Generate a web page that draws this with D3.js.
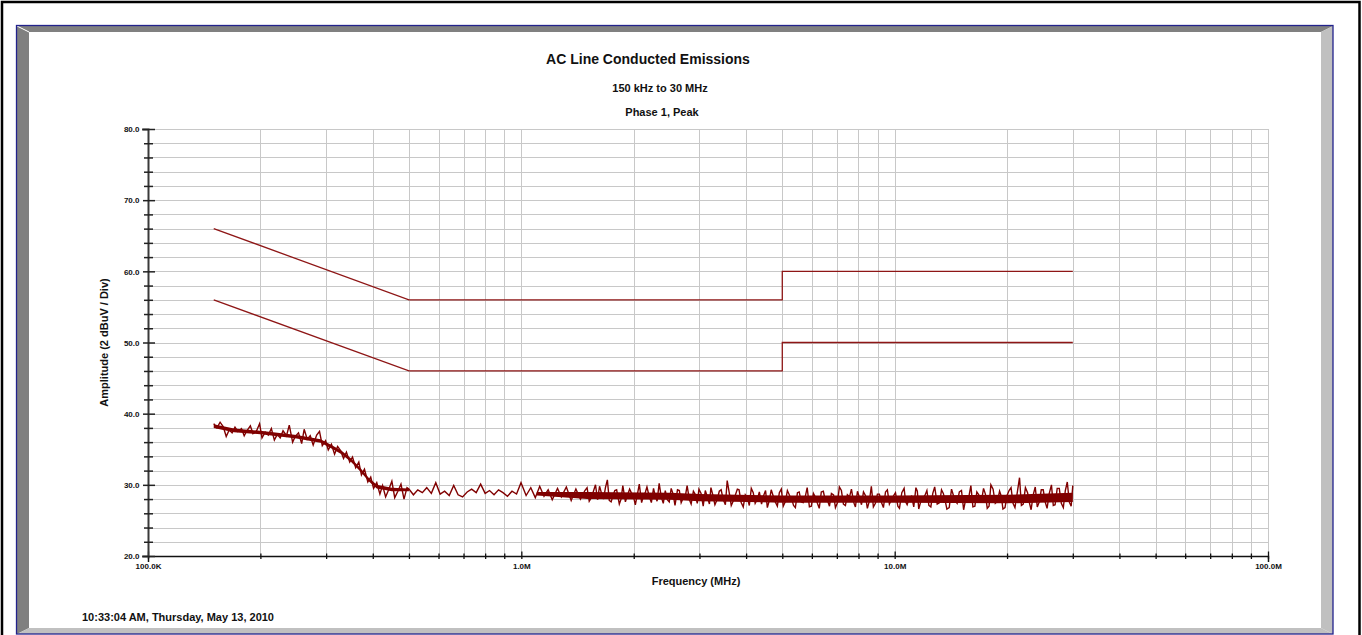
<!DOCTYPE html>
<html>
<head>
<meta charset="utf-8">
<script src="https://cdn.jsdelivr.net/npm/d3@7"></script>
<style>
html, body { margin: 0; padding: 0; background: #fff; }
svg { display: block; font-family: "Liberation Sans", Arial, sans-serif; font-weight: bold; }
</style>
</head>
<body>
<svg id="chart" width="1362" height="635"></svg>
<script>
// tick labels
const decadeFreqs = [0.1, 1, 10, 100];
const decadeLabels = ["100.0K", "1.0M", "10.0M", "100.0M"];
const ampMajor = [20, 30, 40, 50, 60, 70, 80];

// limit lines, [MHz, dBuV]
const qpLimit = [[0.15, 66], [0.5, 56], [5, 56], [5, 60], [30, 60]];
const avgLimit = [[0.15, 56], [0.5, 46], [5, 46], [5, 50], [30, 50]];

// solid core of the dense parts of the trace, [MHz, low, high]
const bandLow = [
    [0.150, 38.0, 38.5], [0.17, 37.4, 37.9], [0.20, 37.1, 37.6], [0.25, 36.5, 37.0],
    [0.29, 35.9, 36.4], [0.31, 35.1, 35.6], [0.33, 34.3, 34.8], [0.35, 33.2, 33.7],
    [0.37, 31.9, 32.4], [0.39, 30.5, 31.0], [0.41, 29.5, 30.0], [0.45, 29.1, 29.6],
    [0.50, 29.1, 29.5]
];
const bandHigh = [
    [1.1, 28.5, 29.0], [1.5, 28.0, 29.0], [2.5, 27.9, 28.9], [3.0, 27.7, 28.7],
    [5.0, 27.5, 28.5], [10, 27.5, 28.5], [20, 27.4, 28.6], [30, 27.6, 28.9]
];

// peak trace, [MHz, dBuV]
const peakTrace = [
    [0.150, 38.6], [0.153, 38.0], [0.156, 38.8], [0.159, 38.2], [0.162, 36.8], [0.165, 37.7],
    [0.168, 37.3], [0.171, 38.1], [0.174, 37.5], [0.178, 37.9], [0.181, 36.9], [0.184, 37.6],
    [0.188, 38.3], [0.191, 37.2], [0.195, 37.5], [0.199, 38.6], [0.202, 36.6], [0.206, 37.4],
    [0.210, 37.0], [0.214, 37.9], [0.218, 36.3], [0.222, 37.1], [0.226, 36.6], [0.230, 37.6],
    [0.235, 36.9], [0.239, 38.4], [0.244, 36.0], [0.248, 36.8], [0.253, 37.3], [0.258, 35.8],
    [0.262, 37.8], [0.267, 36.4], [0.272, 36.9], [0.277, 35.6], [0.283, 37.0], [0.288, 37.5],
    [0.293, 35.5], [0.299, 36.2], [0.304, 34.9], [0.310, 35.7], [0.316, 34.3], [0.322, 35.4],
    [0.328, 34.8], [0.334, 33.7], [0.340, 34.6], [0.347, 33.2], [0.353, 33.9], [0.360, 32.4],
    [0.367, 33.2], [0.373, 31.4], [0.380, 32.2], [0.388, 30.4], [0.395, 31.1], [0.402, 29.5],
    [0.410, 30.3], [0.418, 28.7], [0.425, 29.9], [0.433, 28.3], [0.442, 29.4], [0.450, 30.5],
    [0.458, 28.2], [0.467, 29.1], [0.476, 30.1], [0.485, 28.0], [0.494, 29.6],
    [0.500, 29.4], [0.514, 28.6], [0.528, 29.3], [0.543, 28.9], [0.558, 29.6], [0.574, 28.8],
    [0.590, 30.3], [0.606, 28.7], [0.623, 29.1], [0.641, 28.5], [0.659, 29.9], [0.677, 28.6],
    [0.696, 28.3], [0.716, 29.0], [0.736, 29.4], [0.757, 28.9], [0.778, 30.1], [0.800, 28.8],
    [0.822, 29.2], [0.845, 28.6], [0.869, 29.3], [0.893, 28.9], [0.918, 28.4], [0.944, 29.1],
    [0.971, 28.7], [0.998, 30.3], [1.03, 28.5], [1.06, 29.6], [1.09, 28.2], [1.12, 29.8],
    [1.15, 28.4], [1.18, 29.3], [1.21, 27.9], [1.25, 29.5], [1.28, 28.3], [1.32, 29.7],
    [1.36, 27.8], [1.40, 29.4], [1.44, 28.0], [1.48, 29.2],
    [1.50, 29.6], [1.54, 28.2], [1.58, 30.0], [1.62, 29.8], [1.66, 28.0], [1.70, 30.7],
    [1.74, 27.6], [1.78, 29.2], [1.83, 27.3], [1.87, 29.9], [1.92, 28.4], [1.97, 28.9],
    [2.02, 27.2], [2.07, 30.1], [2.12, 28.3], [2.17, 29.7], [2.23, 27.5], [2.28, 28.6],
    [2.34, 30.2], [2.40, 27.4], [2.46, 27.9], [2.52, 29.5], [2.58, 27.1], [2.65, 29.2],
    [2.71, 28.1], [2.78, 29.9], [2.85, 27.3], [2.92, 28.7], [2.99, 29.4], [3.07, 27.0],
    [3.15, 28.3], [3.22, 29.6], [3.30, 27.2], [3.39, 29.1], [3.47, 28.0], [3.56, 30.6],
    [3.65, 27.1], [3.74, 28.5], [3.83, 29.3], [3.93, 26.9], [4.03, 28.2], [4.13, 29.5],
    [4.23, 27.4], [4.34, 29.0], [4.45, 28.4], [4.56, 26.8], [4.67, 29.3], [4.79, 27.6],
    [4.91, 28.9], [5.03, 27.0], [5.16, 29.2], [5.29, 28.1], [5.42, 26.8], [5.55, 29.0],
    [5.69, 27.5], [5.83, 29.6], [5.98, 27.0], [6.13, 28.3], [6.28, 26.7], [6.44, 29.1],
    [6.60, 27.9], [6.77, 28.8], [6.94, 26.8], [7.11, 29.7], [7.29, 27.3], [7.47, 28.6],
    [7.66, 29.4], [7.85, 26.9], [8.05, 28.2], [8.25, 29.0], [8.45, 26.7], [8.66, 29.8],
    [8.88, 27.4], [9.10, 28.7], [9.33, 26.8], [9.56, 29.3], [9.80, 27.9], [10.05, 28.9],
    [10.3, 26.7], [10.6, 29.5], [10.8, 27.2], [11.1, 28.4], [11.4, 29.6], [11.6, 26.6],
    [11.9, 28.1], [12.2, 29.2], [12.5, 26.9], [12.8, 29.7], [13.2, 27.5], [13.5, 28.8],
    [13.8, 26.6], [14.2, 29.4], [14.5, 27.8], [14.9, 29.0], [15.3, 26.5], [15.6, 28.3],
    [16.0, 29.9], [16.4, 27.0], [16.8, 28.6], [17.3, 29.5], [17.7, 26.7], [18.1, 30.0],
    [18.6, 27.4], [19.1, 29.1], [19.5, 26.6], [20.0, 28.5], [20.5, 29.6], [21.0, 26.8],
    [21.6, 31.0], [22.1, 27.3], [22.7, 28.9], [23.2, 26.5], [23.8, 29.7], [24.4, 27.6],
    [25.0, 29.3], [25.6, 26.7], [26.3, 30.0], [26.9, 27.2], [27.6, 29.5], [28.3, 26.8],
    [29.0, 30.4], [29.7, 27.0], [30.0, 29.9]
];

// in-between sweep points of the dense part, [MHz, dBuV]
const peakTraceFine = [
    [1.52, 27.7], [1.56, 29.1], [1.60, 27.9], [1.64, 28.8], [1.68, 29.6], [1.72, 27.8],
    [1.76, 28.5], [1.80, 29.3], [1.85, 28.0], [1.90, 27.6], [1.95, 29.4], [2.00, 28.2],
    [2.05, 28.9], [2.10, 27.5], [2.15, 29.0], [2.20, 28.4], [2.26, 29.5], [2.31, 27.7],
    [2.37, 28.3], [2.43, 29.2], [2.49, 27.6], [2.55, 28.7], [2.62, 29.3], [2.68, 27.5],
    [2.75, 28.4], [2.82, 27.9], [2.89, 29.1], [2.96, 27.4], [3.03, 28.8], [3.11, 29.2],
    [3.19, 27.3], [3.26, 28.5], [3.35, 28.0], [3.43, 29.3], [3.52, 27.2], [3.61, 28.7],
    [3.70, 27.8], [3.79, 29.4], [3.88, 27.5], [3.98, 28.6], [4.08, 27.1], [4.18, 28.9],
    [4.29, 28.0], [4.40, 27.3], [4.51, 29.2], [4.62, 27.9], [4.73, 28.4], [4.85, 27.0],
    [4.97, 29.4], [5.10, 27.7], [5.23, 28.5], [5.36, 27.1], [5.49, 28.9], [5.62, 27.6],
    [5.76, 28.3], [5.91, 26.9], [6.06, 28.8], [6.21, 27.4], [6.36, 29.0], [6.52, 27.8],
    [6.69, 27.0], [6.86, 28.6], [7.03, 27.5], [7.20, 29.2], [7.38, 27.1], [7.57, 28.3],
    [7.76, 27.6], [7.95, 29.1], [8.15, 27.2], [8.35, 28.5], [8.56, 27.8], [8.77, 26.9],
    [8.99, 28.7], [9.22, 27.5], [9.45, 29.0], [9.68, 27.3], [9.92, 28.4], [10.2, 27.0],
    [10.45, 28.9], [10.7, 27.6], [10.95, 28.2], [11.25, 26.9], [11.5, 29.1], [11.75, 27.7],
    [12.05, 28.5], [12.35, 27.1], [12.65, 28.8], [13.0, 27.3], [13.35, 29.3], [13.65, 27.8],
    [14.0, 26.8], [14.35, 28.6], [14.7, 27.4], [15.1, 29.2], [15.45, 27.6], [15.8, 28.3],
    [16.2, 26.9], [16.6, 29.0], [17.05, 27.5], [17.5, 28.7], [17.9, 27.0], [18.35, 29.4],
    [18.85, 27.7], [19.3, 28.4], [19.75, 26.8], [20.25, 29.2], [20.75, 27.4], [21.3, 28.9],
    [21.85, 27.1], [22.4, 29.6], [22.95, 27.5], [23.5, 28.6], [24.1, 26.9], [24.7, 29.3],
    [25.3, 27.6], [25.95, 28.8], [26.6, 27.1], [27.25, 29.5], [27.95, 27.4], [28.65, 29.2],
    [29.35, 27.6]
];

var svg = d3.select('#chart');

// frame: outer black border and bevelled panel
svg.append('rect')
    .attr('x', 2).attr('y', 2)
    .attr('width', 1357.5).attr('height', 640)
    .attr('fill', 'none').attr('stroke', '#000').attr('stroke-width', 2.5);

svg.append('path').attr('fill', '#808080')
    .attr('d', 'M17,26 L1333,26 L1321,32 L29,32 Z');
svg.append('path').attr('fill', '#808080')
    .attr('d', 'M17,26 L29,32 L29,628 L17,634 Z');
svg.append('path').attr('fill', '#c0c0c0')
    .attr('d', 'M1333,26 L1333,634 L1321,628 L1321,32 Z');
svg.append('path').attr('fill', '#c0c0c0')
    .attr('d', 'M17,634 L29,628 L1321,628 L1333,634 Z');
svg.append('line')
    .attr('x1', 17).attr('y1', 26).attr('x2', 29).attr('y2', 32)
    .attr('stroke', '#fff').attr('stroke-width', 1);
svg.append('rect')
    .attr('x', 16.5).attr('y', 25.5)
    .attr('width', 1316.5).attr('height', 608.5)
    .attr('fill', 'none').attr('stroke', '#22228c').attr('stroke-width', 1.3);

// scales
var x = d3.scaleLog().domain([0.1, 100]).range([148, 1268]);
var y = d3.scaleLinear().domain([20, 80]).range([556, 129]);

var freqTicks = x.ticks();
var ampTicks = y.ticks(30);

// grid
var grid = svg.append('g').attr('class', 'grid')
    .attr('stroke', '#c8c8c8').attr('stroke-width', 1);

grid.selectAll('.h')
    .data(ampTicks)
    .enter().append('line')
    .attr('x1', x(0.1)).attr('x2', x(100))
    .attr('y1', d => Math.round(y(d)) + 0.5)
    .attr('y2', d => Math.round(y(d)) + 0.5);

grid.selectAll('.v')
    .data(freqTicks.filter(d => d > 0.1))
    .enter().append('line')
    .attr('x1', d => Math.round(x(d)) + 0.5)
    .attr('x2', d => Math.round(x(d)) + 0.5)
    .attr('y1', y(80)).attr('y2', y(20));

// limit lines
var line = d3.line().x(d => x(d[0])).y(d => y(d[1]));

[qpLimit, avgLimit].forEach(d => {
    svg.append('path')
        .datum(d)
        .attr('fill', 'none')
        .attr('stroke', '#8e1616')
        .attr('stroke-width', 1.3)
        .attr('d', line);
});

// measured trace
var area = d3.area().x(d => x(d[0])).y0(d => y(d[1])).y1(d => y(d[2]));

[bandLow, bandHigh].forEach(d => {
    svg.append('path')
        .datum(d)
        .attr('fill', '#800000')
        .attr('d', area);
});

var sweep = d3.sort(peakTrace.concat(peakTraceFine), d => d[0]);

svg.append('path')
    .datum(sweep)
    .attr('fill', 'none')
    .attr('stroke', '#800000')
    .attr('stroke-width', 1.4)
    .attr('d', line);

// x axis
var xAxis = d3.axisBottom(x)
    .tickValues(freqTicks)
    .tickFormat(d => {
        let i = decadeFreqs.findIndex(v => Math.abs(v - d) < 1e-9);
        return i >= 0 ? decadeLabels[i] : '';
    });

var bottomAxis = svg.append('g')
    .attr('transform', `translate(0 ${y(20)})`)
    .call(xAxis);

bottomAxis.select('.domain').attr('stroke', '#111').attr('stroke-width', 1.5);
bottomAxis.selectAll('.tick line')
    .attr('stroke', '#111').attr('stroke-width', 1.3)
    .attr('y1', d => decadeFreqs.some(v => Math.abs(v - d) < 1e-9) ? -4.5 : -2.5)
    .attr('y2', 3);
bottomAxis.selectAll('.tick text')
    .attr('y', 13).attr('dy', 0)
    .attr('fill', '#111')
    .style('font-size', '8px').style('font-weight', 'bold')
    .style('font-family', '"Liberation Sans", Arial, sans-serif');

// y axis
var yAxis = d3.axisLeft(y)
    .tickValues(ampTicks)
    .tickFormat(d => ampMajor.includes(d) ? d.toFixed(1) : '');

var leftAxis = svg.append('g')
    .attr('transform', `translate(${x(0.1)} 0)`)
    .call(yAxis);

leftAxis.select('.domain').attr('stroke', '#3a3a3a').attr('stroke-width', 2);
leftAxis.selectAll('.tick line')
    .attr('stroke', '#222').attr('stroke-width', 1.5)
    .attr('x1', d => ampMajor.includes(d) ? -5 : -4)
    .attr('x2', d => ampMajor.includes(d) ? 7 : 5);
leftAxis.selectAll('.tick text')
    .attr('x', -8.5).attr('dy', '0.35em')
    .attr('fill', '#111')
    .style('font-size', '8px').style('font-weight', 'bold')
    .style('font-family', '"Liberation Sans", Arial, sans-serif');

// titles
function label(txt, px, py, size, anchor) {
    return svg.append('text')
        .attr('x', px).attr('y', py)
        .attr('text-anchor', anchor || 'middle')
        .attr('fill', '#111')
        .style('font-size', size + 'px')
        .text(txt);
}

label('AC Line Conducted Emissions', 648, 64, 14);
label('150 kHz to 30 MHz', 660, 92, 11);
label('Phase 1, Peak', 662, 116, 11);
label('Frequency (MHz)', 696, 585, 11);
label('10:33:04 AM, Thursday, May 13, 2010', 82, 621, 11, 'start');

svg.append('text')
    .attr('transform', `translate(108 ${(y(20) + y(80)) / 2}) rotate(-90)`)
    .attr('text-anchor', 'middle')
    .attr('fill', '#111')
    .style('font-size', '11px')
    .text('Amplitude (2 dBuV / Div)');
</script>
</body>
</html>
